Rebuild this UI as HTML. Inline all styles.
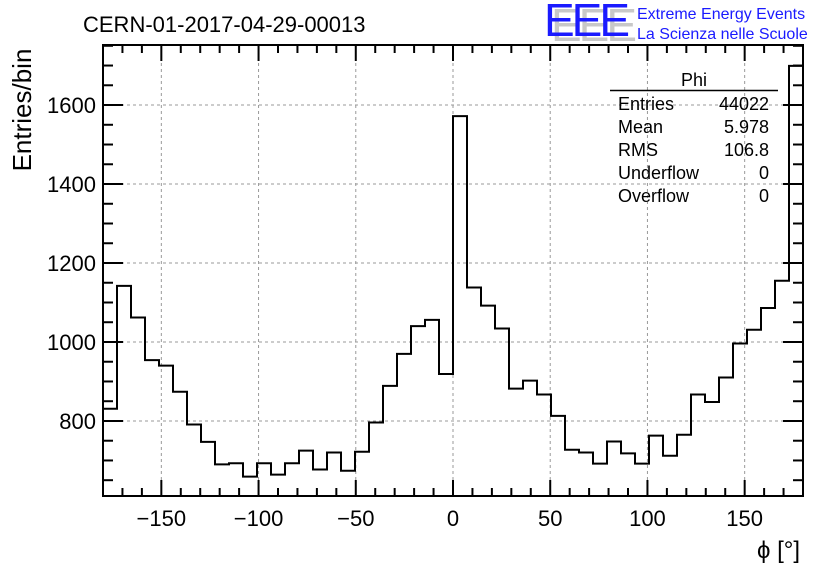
<!DOCTYPE html>
<html><head><meta charset="utf-8"><style>
body{margin:0;background:#fff;}
svg{display:block;font-family:"Liberation Sans",sans-serif;}
</style></head><body>
<svg width="836" height="572" viewBox="0 0 836 572">
<g id="grid"></g>
<g id="ticks"></g>
<path id="hist" fill="none" stroke="#000" stroke-width="2"/>
<rect x="103" y="45" width="700" height="451" fill="none" stroke="#000" stroke-width="2"/>
<g id="labels" font-size="22" fill="#000"></g>
<text x="83" y="32" font-size="22">CERN-01-2017-04-29-00013</text>
<g>
<text x="551" y="41" font-size="46" fill="#c8c8c8" letter-spacing="-3">EEE</text>
<text x="544" y="36" font-size="46" fill="#1a1aff" letter-spacing="-3">EEE</text>
<text x="637" y="19" font-size="16" fill="#1a1aff">Extreme Energy Events</text>
<text x="637" y="39" font-size="16" fill="#1a1aff">La Scienza nelle Scuole</text>
</g>
<text transform="translate(31,110) rotate(-90)" text-anchor="middle" font-size="26">Entries/bin</text>
<text x="800" y="558" text-anchor="end" font-size="24">ϕ [°]</text>
<g font-size="18">
<text x="694" y="86" text-anchor="middle">Phi</text>
<line x1="610" y1="90.5" x2="778" y2="90.5" stroke="#000" stroke-width="1.5"/>
<text x="618" y="110">Entries</text><text x="769" y="110" text-anchor="end">44022</text>
<text x="618" y="133">Mean</text><text x="769" y="133" text-anchor="end">5.978</text>
<text x="618" y="156">RMS</text><text x="769" y="156" text-anchor="end">106.8</text>
<text x="618" y="179">Underflow</text><text x="769" y="179" text-anchor="end">0</text>
<text x="618" y="202">Overflow</text><text x="769" y="202" text-anchor="end">0</text>
</g>
</svg>
<script>
const binCounts = [831,1142,1062,954,940,874,791,747,690,693,659,693,664,693,725,677,720,674,722,796,889,970,1040,1056,919,1572,1138,1092,1034,882,902,867,813,727,720,692,748,718,692,763,712,765,867,848,910,996,1031,1086,1155,1699];
const xMin = -180, xMax = 180;
const yMin = 610, yMax = 1752;
const xTickLabels = [-150,-100,-50,0,50,100,150];
const yTickLabels = [800,1000,1200,1400,1600];
const L=103,R=803,T=45,B=496;
const sx=v=>L+(v-xMin)/(xMax-xMin)*(R-L);
const sy=v=>B-(v-yMin)/(yMax-yMin)*(B-T);
const NS='http://www.w3.org/2000/svg';
function mk(tag,attrs,parent){const e=document.createElementNS(NS,tag);for(const k in attrs)e.setAttribute(k,attrs[k]);parent.appendChild(e);return e;}
const grid=document.getElementById('grid'),ticks=document.getElementById('ticks'),labels=document.getElementById('labels');
xTickLabels.forEach(v=>{
 const g=mk('line',{x1:sx(v),x2:sx(v),y1:T,y2:B,stroke:'#999','stroke-dasharray':'3,3','stroke-width':1},grid);
 
 
 const t=mk('text',{x:sx(v),y:526,'text-anchor':'middle'},labels);t.textContent=(v<0?'\u2212'+(-v):v);
 
 
});
yTickLabels.forEach(v=>{
 const g=mk('line',{x1:L,x2:R,y1:sy(v),y2:sy(v),stroke:'#999','stroke-dasharray':'3,3','stroke-width':1},grid);
 
 
 const t=mk('text',{x:96,y:sy(v)+8,'text-anchor':'end'},labels);t.textContent=v;
 
 
});
for(let v=-170;v<=170;v+=10){const maj=v%50===0;const len=maj?16:8;
 mk('line',{x1:sx(v),x2:sx(v),y1:B,y2:B-len,stroke:'#000','stroke-width':2},ticks);
 mk('line',{x1:sx(v),x2:sx(v),y1:T,y2:T+len,stroke:'#000','stroke-width':2},ticks);}
for(let v=650;v<=1750;v+=50){if(sy(v)<T)continue;const maj=v%200===0;const len=maj?20:10;
 mk('line',{x1:L,x2:L+len,y1:sy(v),y2:sy(v),stroke:'#000','stroke-width':2},ticks);
 mk('line',{x1:R,x2:R-len,y1:sy(v),y2:sy(v),stroke:'#000','stroke-width':2},ticks);}
const w=(xMax-xMin)/binCounts.length;
let d='M'+sx(xMin)+','+B;
binCounts.forEach((c,i)=>{const x0=sx(xMin+i*w),x1=sx(xMin+(i+1)*w),y=sy(c);d+=' L'+x0+','+y+' L'+x1+','+y;});
d+=' L'+sx(xMax)+','+B;
document.getElementById('hist').setAttribute('d',d);
</script>
</body></html>
